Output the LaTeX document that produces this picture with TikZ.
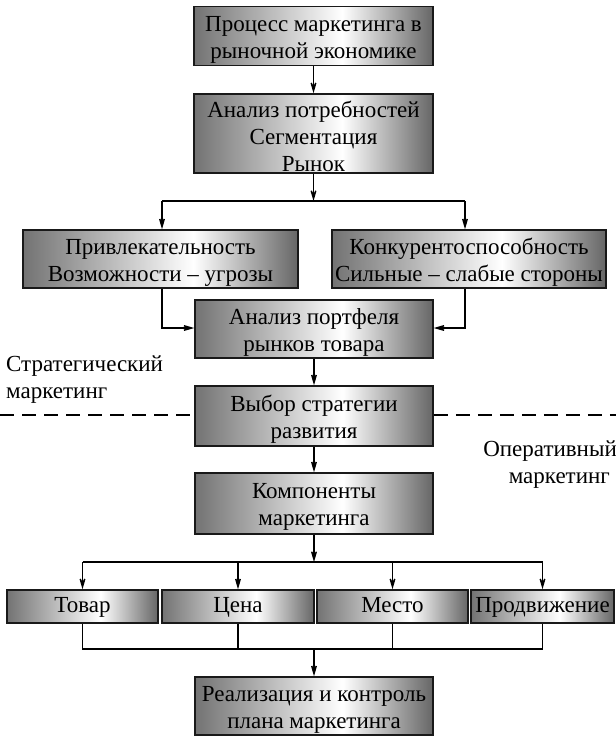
\documentclass[tikz,border=0pt]{standalone}
\usepackage{fontspec}
\setmainfont{Liberation Serif}
\newfontfamily\tnr{Liberation Serif}
\usetikzlibrary{arrows.meta}
\newcommand\tallstrut{\rule{0pt}{22pt}}
\definecolor{dkL}{gray}{0.45}
\definecolor{dkR}{gray}{0.40}
\pgfdeclarehorizontalshading{boxshade}{100bp}{color(0bp)=(dkL); color(25bp)=(dkL); color(56bp)=(white); color(75bp)=(dkR); color(100bp)=(dkR)}
\tikzset{
  box/.style={draw=black!90, line width=1.6pt, shading=boxshade, align=center, inner sep=0pt,
    font=\tnr\fontsize{23}{27}\selectfont},
  pbox/.style={box, minimum height=33pt, text height=15pt, text depth=4pt},
  conn/.style={line width=1.3pt},
  arr/.style={conn, -{Stealth[length=17pt,width=10pt,inset=10pt]}},
  lbl/.style={font=\tnr\fontsize{23}{27}\selectfont, inner sep=0pt},
  dash line/.style={line width=1.3pt, dash pattern=on 14pt off 8pt}
}
\begin{document}
\begin{tikzpicture}[x=1pt,y=-1pt]
\useasboundingbox (0,0) rectangle (616,737);
% boxes
\node[box, minimum width=239pt, minimum height=59pt] (b1) at (313.5,36) {\tallstrut Процесс маркетинга в\\рыночной экономике};
\node[box, minimum width=239pt, minimum height=79pt] (b2) at (313.5,133.5) {\tallstrut Анализ потребностей\\Сегментация\\Рынок};
\node[box, minimum width=275pt, minimum height=58pt] (b3) at (160.5,259) {\tallstrut Привлекательность\\Возможности – угрозы};
\node[box, minimum width=274pt, minimum height=58pt] (b4) at (469,259) {\tallstrut Конкурентоспособность\\Сильные – слабые стороны};
\node[box, minimum width=238pt, minimum height=58pt] (b5) at (314,329) {\tallstrut Анализ портфеля\\рынков товара};
\node[box, minimum width=238pt, minimum height=60pt] (b6) at (314,416) {\tallstrut Выбор стратегии\\развития};
\node[box, minimum width=238pt, minimum height=61pt] (b7) at (314,503.5) {\tallstrut Компоненты\\маркетинга};
\node[pbox, minimum width=151pt] (p1) at (82.5,606.5) {Товар};
\node[pbox, minimum width=152pt] (p2) at (238,606.5) {Цена};
\node[pbox, minimum width=151pt] (p3) at (392.5,606.5) {Место};
\node[pbox, minimum width=143pt] (p4) at (542.5,606.5) {Продвижение};
\node[box, minimum width=238pt, minimum height=58pt] (b8) at (314,706) {\tallstrut Реализация и контроль\\плана маркетинга};
% side labels
\node[lbl, align=left, anchor=north west] (s1) at (6,356) {Стратегический\\маркетинг};
\node[lbl, align=right, anchor=north east] (s2) at (617,441) {Оперативный\\маркетинг\hspace*{7pt}};
% dashed separator
\coordinate (dl0) at (0,415);
\coordinate (dr0) at (616,415);
\draw[dash line] (dl0) -- (b6.west |- dl0);
\draw[dash line] (b6.east |- dr0) -- (dr0);
% connectors
\coordinate (j1) at (313.5,201);
\coordinate (j1l) at (162,201);
\coordinate (j1r) at (465,201);
\draw[arr] (b1) -- (b2);
\draw[arr] (b2) -- (j1);
\draw[conn] (j1l) -- (j1r);
\draw[arr] (j1l) -- (j1l |- b3.north);
\draw[arr] (j1r) -- (j1r |- b4.north);
\coordinate (k1) at (162,328);
\coordinate (k2) at (465,328);
\draw[arr] (k1 |- b3.south) -- (k1) -- (k1 -| b5.west);
\draw[arr] (k2 |- b4.south) -- (k2) -- (k2 -| b5.east);
\draw[arr] (b5) -- (b6);
\draw[arr] (b6) -- (b7);
\coordinate (j2) at (314,562);
\coordinate (j2l) at (82.5,562);
\coordinate (j2r) at (542.5,562);
\draw[arr] (b7) -- (j2);
\draw[conn] (j2l) -- (j2r);
\draw[arr] (j2l) -- (p1);
\draw[arr] (p2 |- j2) -- (p2);
\draw[arr] (p3 |- j2) -- (p3);
\draw[arr] (j2r) -- (p4);
\coordinate (j3) at (314,649);
\coordinate (j3l) at (82.5,649);
\coordinate (j3r) at (542.5,649);
\draw[conn] (p1) -- (j3l) -- (j3r) -- (p4);
\draw[conn] (p2) -- (p2 |- j3);
\draw[conn] (p3) -- (p3 |- j3);
\draw[arr] (j3) -- (b8);
\end{tikzpicture}
\end{document}
